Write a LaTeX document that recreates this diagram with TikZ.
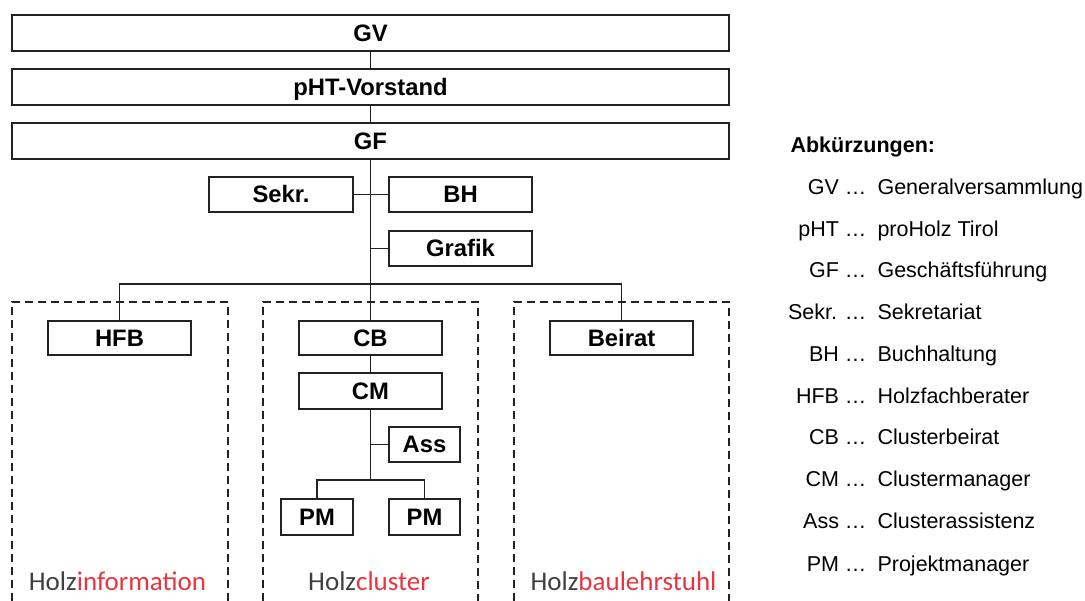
\documentclass[tikz,border=0pt]{standalone}
\usepackage{fontspec}
\setmainfont{Liberation Sans}
\newfontfamily\labfont{Carlito}
\definecolor{ln}{RGB}{34,34,34}
\definecolor{holzgray}{RGB}{64,64,64}
\definecolor{holzred}{RGB}{232,52,62}
\begin{document}
\begin{tikzpicture}[x=1pt,y=-1pt,
  box/.style={draw=ln,line width=1.6pt,inner sep=0pt,minimum width=143pt,minimum height=35pt,
    text height=17pt,text depth=0pt,font=\bfseries\fontsize{23.8}{23.8}\selectfont},
  wide/.style={box,minimum width=717pt,minimum height=36pt},
  small/.style={box,minimum width=71.5pt},
  con/.style={draw=ln,line width=1.6pt},
  area/.style={draw=ln,line width=1.2pt,dash pattern=on 8pt off 5pt},
  lab/.style={anchor=base,font=\labfont\fontsize{27}{27}\selectfont},
  abbr/.style={anchor=base east,font=\fontsize{21.5}{21.5}\selectfont},
  desc/.style={anchor=base west,font=\fontsize{21.5}{21.5}\selectfont}]
\useasboundingbox (0,0) rectangle (1085,601);

% dashed areas
\draw[area] (12,601) -- (12,302) -- (228,302) -- (228,601);
\draw[area] (263,601) -- (263,302) -- (478,302) -- (478,601);
\draw[area] (514,601) -- (514,302) -- (729,302) -- (729,601);

% boxes
\node[wide] (GV) at (370.5,33) {GV};
\node[wide] (pHT) at (370.5,87) {pHT-Vorstand};
\node[wide] (GF) at (370.5,141) {GF};
\node[box,minimum width=144pt] (Sekr) at (281,194.5) {Sekr.};
\node[box] (BH) at (460.5,194.5) {BH};
\node[box] (Grafik) at (460.5,248.5) {Grafik};
\node[box,minimum height=34pt] (HFB) at (119.5,338) {HFB};
\node[box,minimum height=34pt] (CB) at (370.5,338) {CB};
\node[box,minimum height=36pt] (CM) at (370.5,391) {CM};
\node[box,minimum height=34pt] (Beirat) at (621.5,338) {Beirat};
\node[small] (Ass) at (424.5,444.5) {Ass};
\node[small,minimum height=36pt] (PM1) at (317,517) {PM};
\node[small,minimum height=36pt] (PM2) at (424.5,517) {PM};

% connectors
\coordinate (bus) at (370.5,284);
\coordinate (gr) at (370.5,248.5);
\coordinate (pmbus) at (370.5,480);
\coordinate (as) at (370.5,444.5);
\draw[con] (GV) -- (pHT);
\draw[con] (pHT) -- (GF);
\draw[con] (GF.south) -- (bus);
\draw[con] (Sekr.east) -- (BH.west);
\draw[con] (Grafik.west) -- (gr);
\draw[con] (HFB.north) |- (bus) -| (Beirat.north);
\draw[con] (bus) -- (CB.north);
\draw[con] (CB) -- (CM);
\draw[con] (CM.south) -- (pmbus);
\draw[con] (Ass.west) -- (as);
\draw[con] (PM1.north) |- (pmbus) -| (PM2.north);

% area labels
\node[lab] (l1) at (117.5,590) {\textcolor{holzgray}{Holz}\textcolor{holzred}{information}};
\node[lab] (l2) at (369,590) {\textcolor{holzgray}{Holz}\textcolor{holzred}{cluster}};
\node[lab] (l3) at (623.5,590) {\textcolor{holzgray}{Holz}\textcolor{holzred}{baulehrstuhl}};

% legend
\node[anchor=base west,font=\bfseries\fontsize{21.5}{21.5}\selectfont] (leg) at (787,153) {Abkürzungen:};
\node[abbr] (a1) at (870,195) {GV …};  \node[desc] (d1) at (874,195) {Generalversammlung};
\node[abbr] (a2) at (870,237) {pHT …}; \node[desc] (d2) at (874,237) {proHolz Tirol};
\node[abbr] (a3) at (870,278) {GF …};  \node[desc] (d3) at (874,278) {Geschäftsführung};
\node[abbr] (a4) at (870,320) {Sekr. …}; \node[desc] (d4) at (874,320) {Sekretariat};
\node[abbr] (a5) at (870,362) {BH …};  \node[desc] (d5) at (874,362) {Buchhaltung};
\node[abbr] (a6) at (870,404) {HFB …}; \node[desc] (d6) at (874,404) {Holzfachberater};
\node[abbr] (a7) at (870,445) {CB …};  \node[desc] (d7) at (874,445) {Clusterbeirat};
\node[abbr] (a8) at (870,487) {CM …};  \node[desc] (d8) at (874,487) {Clustermanager};
\node[abbr] (a9) at (870,529) {Ass …}; \node[desc] (d9) at (874,529) {Clusterassistenz};
\node[abbr] (a10) at (870,571) {PM …}; \node[desc] (d10) at (874,571) {Projektmanager};
\end{tikzpicture}
\end{document}
